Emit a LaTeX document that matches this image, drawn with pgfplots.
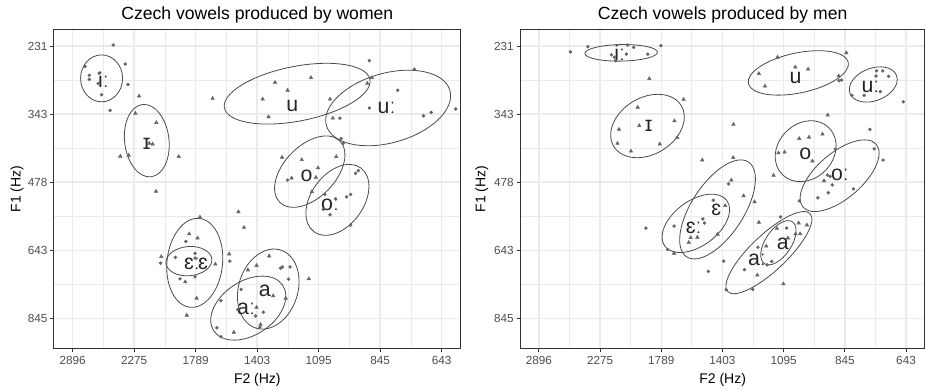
\documentclass[border=0pt]{standalone}
\usepackage{pgfplots}
\pgfplotsset{compat=1.18}
\usepackage{fontspec}
\setmainfont{Liberation Sans}
\definecolor{grey92}{HTML}{EBEBEB}
\definecolor{grey20}{HTML}{333333}
\definecolor{grey30}{HTML}{4D4D4D}
\definecolor{ptcol}{HTML}{666666}
\definecolor{ellcol}{HTML}{4A4A4A}
\newcommand{\vell}[5]{\draw[ellcol, line width=0.6pt] (axis cs:#1,#2) ellipse [x radius=#3pt, y radius=#4pt, rotate=#5];}
\newcommand{\vlab}[3]{\node[font=\fontsize{16}{18}\selectfont, text=black!85, inner sep=0pt] at (axis cs:#1,#2) {#3};}
\pgfplotsset{vowelaxis/.style={
  scale only axis, height=239.55pt,
  xmin=11.382, xmax=24.608, ymin=5.509, ymax=14.893,
  x dir=reverse, y dir=reverse,
  xtick={12,14,...,24}, xticklabels={643,845,1095,1403,1789,2275,2896},
  ytick={6,8,10,12,14}, yticklabels={231,343,478,643,845},
  minor xtick={13,15,...,23}, minor ytick={7,9,11,13},
  grid=both,
  major grid style={line width=1.07pt, grey92},
  minor grid style={line width=0.53pt, grey92},
  axis line style={grey20, line width=0.75pt},
  tick align=outside, major tick length=2.75pt, minor tick length=0pt,
  xtick pos=bottom, ytick pos=left,
  tick style={grey20, line width=0.75pt},
  ticklabel style={font=\fontsize{8.8}{10}\selectfont, text=grey30},
  xticklabel style={inner sep=0pt, anchor=north, yshift=-2.75pt},
  yticklabel style={inner sep=0pt, anchor=east, xshift=-2pt},
}}
\begin{document}
\begin{tikzpicture}
\path[use as bounding box] (0pt,0pt) rectangle (693.75pt,-292.5pt);
% ---------------- women ----------------
\begin{axis}[vowelaxis, at={(40.5pt,-21.98pt)}, anchor=north west, width=305pt]
\addplot[only marks, mark=triangle*, mark size=1.5pt, ptcol] table {
x y
21.84 7.47
21.96 7.98
21.28 8.25
21.51 8.86
21.40 8.88
22.45 9.24
22.18 9.21
20.55 9.25
21.29 10.27
19.45 7.54
17.82 7.56
17.42 7.07
17.01 7.30
16.25 6.93
15.63 7.56
17.63 8.08
15.54 8.12
14.42 7.10
14.27 6.93
17.19 9.27
16.55 9.34
15.43 9.25
16.02 9.58
16.09 9.86
16.88 9.88
16.22 10.28
19.86 11.03
20.21 11.52
19.94 11.64
21.12 12.19
20.34 12.93
19.36 12.41
19.97 13.41
20.29 13.91
18.91 12.11
18.61 10.87
18.43 11.33
17.61 12.17
18.02 12.45
18.30 12.58
16.32 12.84
17.48 13.34
17.07 13.41
18.02 13.68
17.89 14.18
18.76 14.41
};
\addplot[only marks, mark=*, mark size=1.1pt, ptcol] table {
x y
22.68 5.97
23.60 6.60
23.46 6.86
23.46 6.98
23.14 6.80
23.17 7.10
23.06 7.43
22.29 6.53
22.20 7.13
22.78 7.89
14.35 6.43
15.31 8.12
14.35 7.82
13.43 7.30
12.89 6.68
12.59 8.05
12.34 7.95
11.54 7.85
15.27 8.72
15.20 8.86
15.80 10.36
15.45 10.49
15.85 10.80
15.63 10.96
15.09 10.43
14.96 10.36
14.80 9.74
14.71 9.66
14.96 11.26
17.01 9.94
20.32 11.74
21.14 12.38
20.66 12.21
20.02 12.09
20.02 12.23
20.02 12.78
20.51 12.84
18.89 12.32
17.24 12.53
17.18 12.49
16.93 12.49
16.98 12.85
18.52 13.15
19.18 13.48
18.63 13.74
18.05 13.93
17.80 13.82
17.91 14.26
19.31 14.28
19.18 14.54
};
\vell{23.06}{6.95}{15.75}{17.6}{0}
\vell{21.59}{8.78}{27.3}{16.65}{96.8}
\vell{16.70}{7.40}{55.6}{20.5}{11.1}
\vell{13.74}{7.82}{48.15}{26.1}{15.8}
\vell{16.29}{9.69}{32.2}{19.4}{45.9}
\vell{15.39}{10.52}{29.7}{19.6}{53.7}
\vell{20.03}{12.37}{33.5}{20.85}{84}
\vell{20.22}{12.32}{17.25}{10.95}{5}
\vell{17.64}{13.14}{30.7}{22.2}{72.3}
\vell{18.29}{13.70}{31.0}{20.2}{33.5}
\vlab{23.00}{6.98}{iː}
\vlab{21.59}{8.88}{ɪ}
\vlab{16.86}{7.75}{u}
\vlab{13.79}{7.83}{uː}
\vlab{16.39}{9.81}{o}
\vlab{15.63}{10.66}{oː}
\vlab{20.12}{12.40}{ɛː}
\vlab{19.76}{12.40}{ɛ}
\vlab{17.75}{13.20}{a}
\vlab{18.36}{13.72}{aː}
\end{axis}
% ---------------- men ----------------
\begin{axis}[vowelaxis, at={(390.2pt,-21.98pt)}, anchor=north west, width=303.5pt]
\addplot[only marks, mark=triangle*, mark size=1.5pt, ptcol] table {
x y
20.39 6.96
20.77 7.80
19.27 7.57
21.38 8.45
20.72 8.34
19.57 8.20
21.43 8.86
20.99 9.09
20.05 8.88
19.48 8.69
16.20 6.33
15.62 6.62
15.20 6.68
16.81 6.81
16.61 7.18
13.95 6.20
14.20 6.88
15.49 8.72
15.17 8.68
14.73 8.59
14.56 8.03
16.17 9.14
15.97 9.12
15.06 9.38
16.33 9.80
14.68 9.96
18.66 9.35
17.64 8.30
17.65 9.28
17.71 9.94
17.31 10.40
16.95 10.58
17.91 10.69
19.04 11.63
18.82 11.62
19.10 11.77
18.16 11.53
19.58 12.09
16.81 11.18
16.22 11.36
15.51 11.20
15.24 11.26
15.61 11.52
15.46 11.52
15.86 11.64
16.57 11.88
16.86 12.73
16.01 12.99
};
\addplot[only marks, mark=*, mark size=1.1pt, ptcol] table {
x y
22.97 6.17
22.40 6.02
21.63 6.26
21.53 6.33
21.49 6.43
21.14 6.24
21.10 5.97
20.90 6.04
20.44 6.24
20.01 5.99
12.96 6.73
12.76 6.73
12.98 6.88
12.57 6.89
13.77 7.45
13.37 7.45
12.84 7.34
12.09 7.64
14.19 7.02
14.11 7.00
13.18 8.45
14.31 9.03
13.04 9.02
12.75 9.35
14.57 9.79
14.48 9.83
14.41 10.08
14.54 10.31
14.88 10.46
13.72 10.20
15.49 10.55
20.50 11.35
19.58 11.29
17.80 10.05
18.30 10.53
18.64 11.08
18.59 11.20
19.79 11.98
17.96 12.32
18.46 12.62
16.10 11.02
15.90 11.35
16.84 11.91
16.54 12.43
16.39 12.33
17.28 12.57
17.01 13.15
17.88 13.16
};
\vell{21.31}{6.20}{27.2}{6.2}{1}
\vell{20.45}{8.35}{29.55}{21.3}{31.1}
\vell{15.52}{6.79}{38.3}{15.0}{11.9}
\vell{13.07}{7.13}{18.7}{12.2}{21.2}
\vell{15.28}{9.09}{24.8}{20.7}{45}
\vell{14.17}{9.81}{36.15}{17.1}{40.6}
\vell{18.16}{10.80}{42.45}{19.6}{56.9}
\vell{18.87}{11.21}{28.9}{16.95}{36.4}
\vell{16.17}{11.78}{18.9}{9.75}{56.3}
\vell{16.48}{12.07}{42.5}{13.5}{43.4}
\vlab{21.36}{6.21}{iː}
\vlab{20.41}{8.35}{ɪ}
\vlab{15.61}{6.94}{u}
\vlab{13.16}{7.21}{uː}
\vlab{15.29}{9.18}{o}
\vlab{14.16}{9.79}{oː}
\vlab{18.20}{10.80}{ɛ}
\vlab{18.94}{11.34}{ɛː}
\vlab{16.03}{11.80}{a}
\vlab{16.87}{12.27}{aː}
\end{axis}
% ---------------- titles and axis titles ----------------
\node[font=\fontsize{13.2}{15}\selectfont, anchor=base, inner sep=0pt] at (193pt,-14.25pt) {Czech vowels produced by women};
\node[font=\fontsize{13.2}{15}\selectfont, anchor=base, inner sep=0pt] at (542pt,-14.25pt) {Czech vowels produced by men};
\node[font=\fontsize{10.5}{12}\selectfont, anchor=base, inner sep=0pt] at (193pt,-287.25pt) {F2 (Hz)};
\node[font=\fontsize{10.5}{12}\selectfont, anchor=base, inner sep=0pt] at (542pt,-287.25pt) {F2 (Hz)};
\node[font=\fontsize{10.5}{12}\selectfont, anchor=base, inner sep=0pt, rotate=90] at (15.4pt,-141.75pt) {F1 (Hz)};
\node[font=\fontsize{10.5}{12}\selectfont, anchor=base, inner sep=0pt, rotate=90] at (364.1pt,-141.75pt) {F1 (Hz)};
\end{tikzpicture}
\end{document}
